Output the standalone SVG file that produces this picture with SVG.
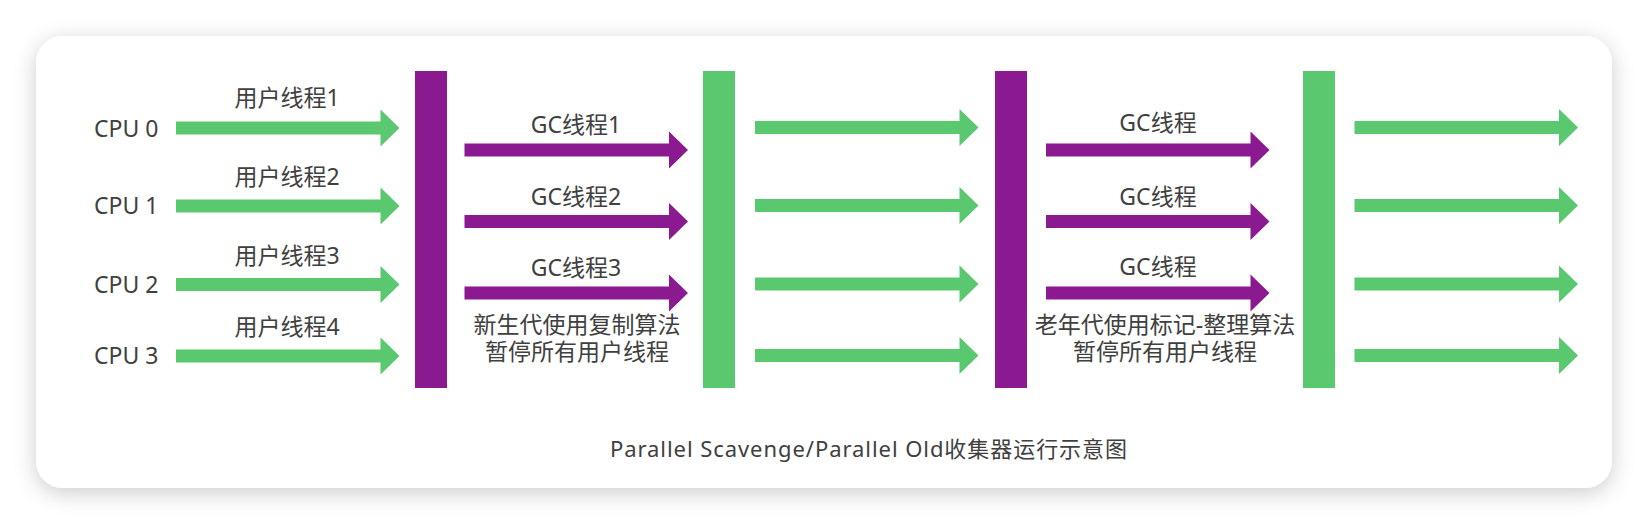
<svg xmlns="http://www.w3.org/2000/svg" width="1648" height="524" viewBox="0 0 1648 524">
  <defs>
    <filter id="shadow" x="-5%" y="-15%" width="110%" height="135%">
      <feDropShadow dx="0" dy="5" stdDeviation="11" flood-color="#000" flood-opacity="0.2"/>
    </filter>
    <path id="arrow" d="M0,-6.5 H204.5 V-18.5 L223.5,0 L204.5,18.5 V6.5 H0 Z"/>
    <style>
      .lbl { font-family: "Noto Sans", "Noto Sans CJK SC", sans-serif; font-size: 23px; fill: #404040; }
      .mid { text-anchor: middle; }
      .green { fill: #5ac86f; }
      .purple { fill: #8b198f; }
      .cap { font-family: "Noto Sans", "Noto Sans CJK SC", sans-serif; font-size: 22px; fill: #404040; }
    </style>
  </defs>
  <rect width="1648" height="524" fill="#ffffff"/>
  <rect id="card" x="36" y="36" width="1576" height="452" rx="27" ry="27" fill="#ffffff" filter="url(#shadow)"/>

  <g id="cpu-labels">
    <text class="lbl" x="94" y="137">CPU 0</text>
    <text class="lbl" x="94" y="214">CPU 1</text>
    <text class="lbl" x="94" y="293">CPU 2</text>
    <text class="lbl" x="94" y="364">CPU 3</text>
  </g>

  <g id="bar1"><rect class="purple" x="415" y="71" width="32" height="317"/></g>
  <g id="bar2"><rect class="green" x="703" y="71" width="32" height="317"/></g>
  <g id="bar3"><rect class="purple" x="995" y="71" width="32" height="317"/></g>
  <g id="bar4"><rect class="green" x="1303" y="71" width="32" height="317"/></g>

  <g id="connectors">
    <use href="#arrow" class="green" x="176" y="128"/>
    <use href="#arrow" class="green" x="176" y="206"/>
    <use href="#arrow" class="green" x="176" y="284.5"/>
    <use href="#arrow" class="green" x="176" y="356"/>

    <use href="#arrow" class="purple" x="464.5" y="150"/>
    <use href="#arrow" class="purple" x="464.5" y="221.5"/>
    <use href="#arrow" class="purple" x="464.5" y="293"/>

    <use href="#arrow" class="green" x="755" y="127.5"/>
    <use href="#arrow" class="green" x="755" y="205.5"/>
    <use href="#arrow" class="green" x="755" y="284"/>
    <use href="#arrow" class="green" x="755" y="355.5"/>

    <use href="#arrow" class="purple" x="1046" y="150"/>
    <use href="#arrow" class="purple" x="1046" y="221.5"/>
    <use href="#arrow" class="purple" x="1046" y="293"/>

    <use href="#arrow" class="green" x="1354.5" y="127.5"/>
    <use href="#arrow" class="green" x="1354.5" y="205.5"/>
    <use href="#arrow" class="green" x="1354.5" y="284"/>
    <use href="#arrow" class="green" x="1354.5" y="355.5"/>
  </g>

  <g id="user-thread-labels">
    <text class="lbl mid" x="287" y="106">用户线程1</text>
    <text class="lbl mid" x="287" y="185">用户线程2</text>
    <text class="lbl mid" x="287" y="263.5">用户线程3</text>
    <text class="lbl mid" x="287" y="335">用户线程4</text>
  </g>

  <g id="young-gc">
    <text class="lbl mid" x="576" y="132.5">GC线程1</text>
    <text class="lbl mid" x="576" y="204.5">GC线程2</text>
    <text class="lbl mid" x="576" y="276">GC线程3</text>
    <text class="lbl mid" x="577" y="332.5">新生代使用复制算法</text>
    <text class="lbl mid" x="577" y="359.5">暂停所有用户线程</text>
  </g>

  <g id="old-gc">
    <text class="lbl mid" x="1158" y="131">GC线程</text>
    <text class="lbl mid" x="1158" y="205">GC线程</text>
    <text class="lbl mid" x="1158" y="275">GC线程</text>
    <text class="lbl mid" x="1165" y="332.5">老年代使用标记-整理算法</text>
    <text class="lbl mid" x="1165" y="360">暂停所有用户线程</text>
  </g>

  <g id="caption">
    <text class="cap" x="610" y="457" textLength="517" lengthAdjust="spacing">Parallel Scavenge/Parallel Old收集器运行示意图</text>
  </g>
</svg>
